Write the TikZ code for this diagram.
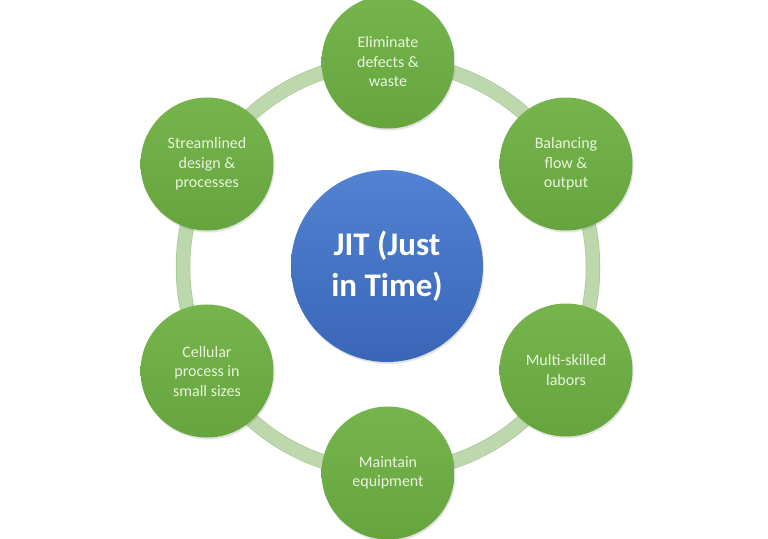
\documentclass[tikz,border=0pt]{standalone}
\usepackage{fontspec}
\setmainfont{Carlito}
\usetikzlibrary{shadows}
\definecolor{ringc}{RGB}{190,216,174}
\definecolor{ringd}{RGB}{168,201,150}
\definecolor{greentop}{RGB}{118,180,76}
\definecolor{greenbot}{RGB}{102,164,62}
\definecolor{bluetop}{RGB}{82,130,210}
\definecolor{bluebot}{RGB}{58,102,184}
\definecolor{txtc}{RGB}{232,245,220}
\tikzset{
  sat/.style={circle, minimum size=133pt, inner sep=0pt, align=center,
    top color=greentop, bottom color=greenbot, text=txtc,
    font=\fontsize{16}{19.5}\selectfont,
    drop shadow={opacity=0.22, shadow xshift=1pt, shadow yshift=-2pt}},
  hub/.style={circle, minimum size=192pt, inner sep=0pt, align=center,
    top color=bluetop, bottom color=bluebot, text=white,
    font=\bfseries\fontsize{33}{41}\selectfont,
    drop shadow={opacity=0.22, shadow xshift=1pt, shadow yshift=-2pt}},
  ring/.style={draw=ringc, line width=13pt}
}
\begin{document}
\begin{tikzpicture}[x=1pt,y=-1pt]
\useasboundingbox[fill=white] (0,0) rectangle (768,538);
\coordinate (c) at (388,267);
\draw[ringd, line width=14.5pt] (c) circle (205);
\draw[ring] (c) circle (205);
\node[hub] (jit) at (387,266) {JIT (Just\\in Time)};
\node[sat] (elim) at (388,62) {Eliminate\\defects \&\\waste};
\node[sat] (bal) at (566,164) {Balancing\\flow \&\\output};
\node[sat] (multi) at (566,370) {Multi-skilled\\labors};
\node[sat] (maint) at (388,473) {Maintain\\equipment};
\node[sat] (cell) at (207,371) {Cellular\\process in\\small sizes};
\node[sat] (stream) at (207,164) {Streamlined\\design \&\\processes};
\end{tikzpicture}
\end{document}
